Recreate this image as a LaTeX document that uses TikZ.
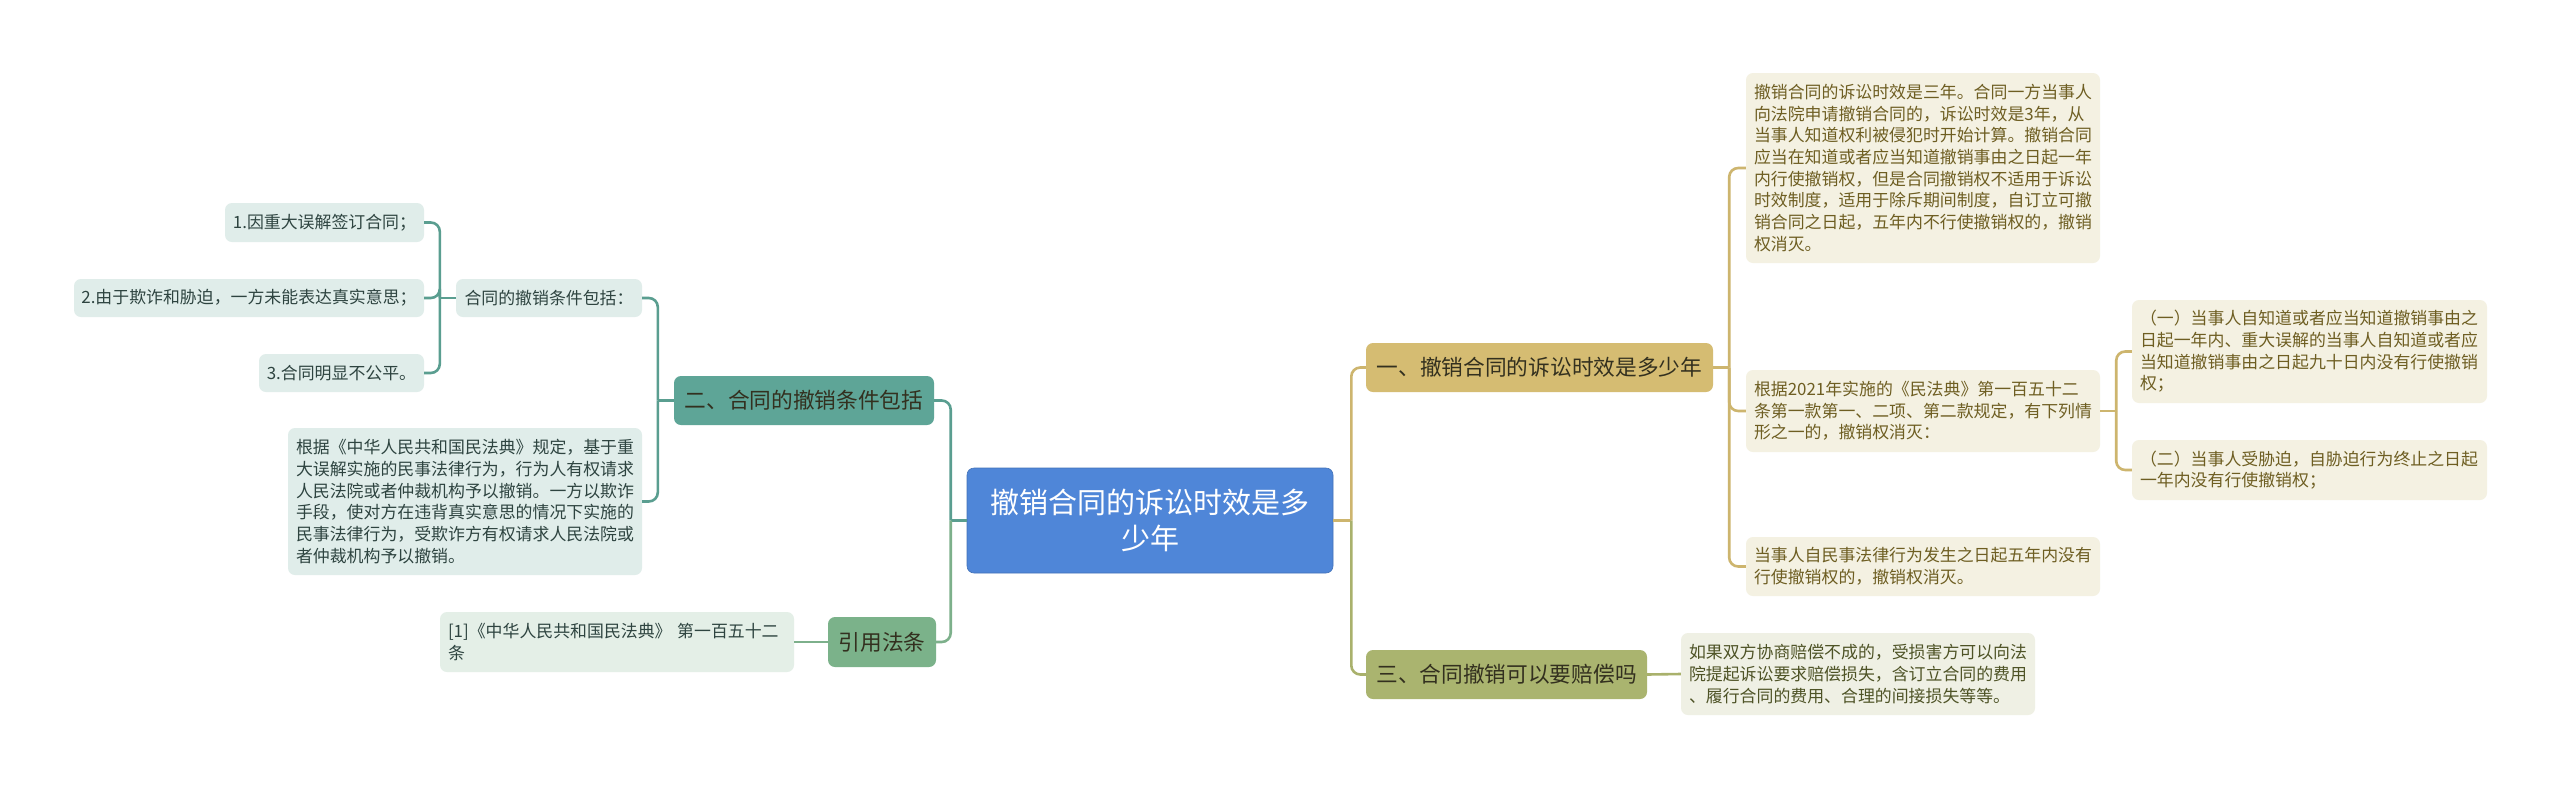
\documentclass[tikz,border=0pt]{standalone}
\usepackage{fontspec}
\setmainfont{Noto Sans CJK SC}
\usetikzlibrary{calc}
\definecolor{rootfill}{HTML}{4F86D8}
\definecolor{goldfill}{HTML}{D5BC72}
\definecolor{goldline}{HTML}{CDB56E}
\definecolor{goldleaf}{HTML}{F4F1E2}
\definecolor{goldtext}{HTML}{6E5E22}
\definecolor{olivefill}{HTML}{AAB46F}
\definecolor{oliveline}{HTML}{A9B16C}
\definecolor{oliveleaf}{HTML}{EFF0E4}
\definecolor{olivetext}{HTML}{4E5326}
\definecolor{tealfill}{HTML}{5EA597}
\definecolor{tealline}{HTML}{5A9E90}
\definecolor{tealleaf}{HTML}{E0EDEA}
\definecolor{tealtext}{HTML}{2E4440}
\definecolor{greenfill}{HTML}{7BB28A}
\definecolor{greenline}{HTML}{7DB08B}
\definecolor{greenleaf}{HTML}{E4EFE7}
\definecolor{darktext}{HTML}{33301F}
\tikzset{
  box/.style={rounded corners=7pt, inner sep=0pt, align=left},
  rootbox/.style={box, fill=rootfill, draw=rootfill!85!black, line width=0.6pt, text=white, align=center,
     font=\fontsize{29}{36.5}\selectfont},
  lvlbox/.style={box, align=center, font=\fontsize{21.7}{26}\selectfont, text=darktext},
  leafbox/.style={box, font=\fontsize{16.9}{21.7}\selectfont},
  conn/.style={line width=2.6pt, rounded corners=9pt},
}
\begin{document}
\begin{tikzpicture}[x=1pt,y=-1pt]
\useasboundingbox (0,0) rectangle (2560,788);
\fill[white] (0,0) rectangle (2560,788);

% root
\node[rootbox, minimum width=366, minimum height=105] (root) at (1150,520.5) {撤销合同的诉讼时效是多\\少年};

% level 1
\node[lvlbox, fill=goldfill, minimum width=347, minimum height=49] (b1) at (1539.5,367.5) {一、撤销合同的诉讼时效是多少年};
\node[lvlbox, fill=olivefill, minimum width=281, minimum height=49] (b3) at (1506.5,674.5) {三、合同撤销可以要赔偿吗};
\node[lvlbox, fill=tealfill, minimum width=260, minimum height=49] (b2) at (804,400.5) {二、合同的撤销条件包括};
\node[lvlbox, fill=greenfill, minimum width=108, minimum height=50] (b4) at (882,642) {引用法条};

% gold leaves
\node[leafbox, fill=goldleaf, text=goldtext, minimum width=354, minimum height=190, text width=338] (l1a) at (1923,168)
 {撤销合同的诉讼时效是三年。合同一方当事人\\向法院申请撤销合同的，诉讼时效是3年，从\\当事人知道权利被侵犯时开始计算。撤销合同\\应当在知道或者应当知道撤销事由之日起一年\\内行使撤销权，但是合同撤销权不适用于诉讼\\时效制度，适用于除斥期间制度，自订立可撤\\销合同之日起，五年内不行使撤销权的，撤销\\权消灭。};
\node[leafbox, fill=goldleaf, text=goldtext, minimum width=354, minimum height=82, text width=338] (l1b) at (1923,411)
 {根据2021年实施的《民法典》第一百五十二\\条第一款第一、二项、第二款规定，有下列情\\形之一的，撤销权消灭：};
\node[leafbox, fill=goldleaf, text=goldtext, minimum width=354, minimum height=59, text width=338] (l1c) at (1923,566.5)
 {当事人自民事法律行为发生之日起五年内没有\\行使撤销权的，撤销权消灭。};
\node[leafbox, fill=goldleaf, text=goldtext, minimum width=355, minimum height=103, text width=339] (l1b1) at (2309.5,351.5)
 {（一）当事人自知道或者应当知道撤销事由之\\日起一年内、重大误解的当事人自知道或者应\\当知道撤销事由之日起九十日内没有行使撤销\\权；};
\node[leafbox, fill=goldleaf, text=goldtext, minimum width=355, minimum height=60, text width=339] (l1b2) at (2309.5,470)
 {（二）当事人受胁迫，自胁迫行为终止之日起\\一年内没有行使撤销权；};

% olive leaf
\node[leafbox, fill=oliveleaf, text=olivetext, minimum width=354, minimum height=82, text width=338] (l3a) at (1858,674)
 {如果双方协商赔偿不成的，受损害方可以向法\\院提起诉讼要求赔偿损失，含订立合同的费用\\、履行合同的费用、合理的间接损失等等。};

% teal leaves
\node[leafbox, fill=tealleaf, text=tealtext, minimum width=186, minimum height=38, align=center] (l2a) at (549,298)
 {合同的撤销条件包括：};
\node[leafbox, fill=tealleaf, text=tealtext, minimum width=199, minimum height=39, align=center] (l2a1) at (324.5,222.5)
 {1.因重大误解签订合同；};
\node[leafbox, fill=tealleaf, text=tealtext, minimum width=350, minimum height=38, align=center] (l2a2) at (249,298)
 {2.由于欺诈和胁迫，一方未能表达真实意思；};
\node[leafbox, fill=tealleaf, text=tealtext, minimum width=165, minimum height=38, align=center] (l2a3) at (341.5,373)
 {3.合同明显不公平。};
\node[leafbox, fill=tealleaf, text=tealtext, minimum width=354, minimum height=147, text width=338] (l2b) at (465,501.5)
 {根据《中华人民共和国民法典》规定，基于重\\大误解实施的民事法律行为，行为人有权请求\\人民法院或者仲裁机构予以撤销。一方以欺诈\\手段，使对方在违背真实意思的情况下实施的\\民事法律行为，受欺诈方有权请求人民法院或\\者仲裁机构予以撤销。};

% green leaf
\node[leafbox, fill=greenleaf, text=tealtext, minimum width=354, minimum height=60, text width=338] (l4a) at (617,642)
 {[1]《中华人民共和国民法典》 第一百五十二\\条};

% junction coordinates
\coordinate (jr) at ($(root.east)+(18,0)$);
\coordinate (jl) at ($(root.west)+(-16,0)$);
\coordinate (j1) at ($(b1.east)+(16,0)$);
\coordinate (j1b) at ($(l1b.east)+(16,0)$);
\coordinate (j2) at ($(b2.west)+(-16,0)$);
\coordinate (j2a) at ($(l2a.west)+(-16,0)$);

% right side connectors
\draw[conn, goldline] (root.east) -- (jr);
\draw[conn, goldline] (jr) |- (b1.west);
\draw[conn, oliveline] (jr) |- (b3.west);
\draw[conn, goldline] (b1.east) -- (j1);
\draw[conn, goldline] (j1) |- (l1a.west);
\draw[conn, goldline] (j1) |- (l1b.west);
\draw[conn, goldline] (j1) |- (l1c.west);
\draw[conn, goldline] (l1b.east) -- (j1b);
\draw[conn, goldline] (j1b) |- (l1b1.west);
\draw[conn, goldline] (j1b) |- (l1b2.west);
\draw[conn, oliveline] (b3.east) -- (l3a.west);

% left side connectors
\draw[conn, tealline] (root.west) -- (jl);
\draw[conn, tealline] (jl) |- (b2.east);
\draw[conn, greenline] (jl) |- (b4.east);
\draw[conn, tealline] (b2.west) -- (j2);
\draw[conn, tealline] (j2) |- (l2a.east);
\draw[conn, tealline] (j2) |- (l2b.east);
\draw[conn, tealline] (l2a.west) -- (j2a);
\draw[conn, tealline] (j2a) |- (l2a1.east);
\draw[conn, tealline] (j2a) |- (l2a2.east);
\draw[conn, tealline] (j2a) |- (l2a3.east);
\draw[conn, greenline] (b4.west) -- (l4a.east);
\end{tikzpicture}
\end{document}
